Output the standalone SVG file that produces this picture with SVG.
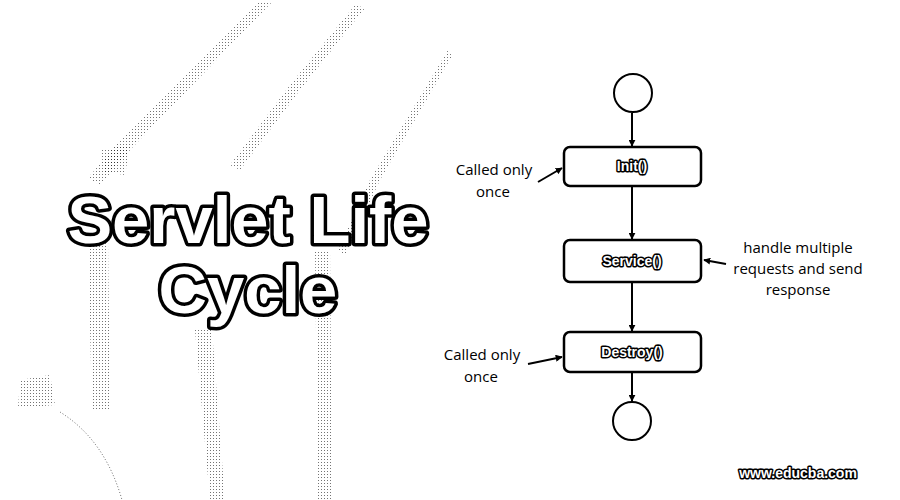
<svg xmlns="http://www.w3.org/2000/svg" width="900" height="500" viewBox="0 0 900 500">
<defs>
<pattern id="dots" width="3" height="3" patternUnits="userSpaceOnUse"><rect x="0" y="0" width="1" height="1" fill="#000"/></pattern>
<marker id="ah" viewBox="0 0 10 10" refX="9" refY="5" markerWidth="7" markerHeight="7" orient="auto-start-reverse" markerUnits="userSpaceOnUse"><path d="M0,0 L10,5 L0,10 z" fill="#000"/></marker>
<style>
.bg{fill:url(#dots);opacity:0.55}
.node rect{fill:#fff;stroke:#000;stroke-width:2.5}
.node circle{fill:#fff;stroke:#000;stroke-width:2}
.lbl{font-family:"Liberation Sans","DejaVu Sans",sans-serif;font-weight:bold;font-size:14px;text-anchor:middle;fill:#fff;stroke:#000;stroke-width:3;paint-order:stroke;stroke-linejoin:round}
.note{font-family:"Open Sans","Liberation Sans",sans-serif;font-size:15px;text-anchor:middle;fill:#000}
.conn line{stroke:#000;stroke-width:2;marker-end:url(#ah)}
.title{font-family:"Liberation Sans",Arial,sans-serif;font-weight:bold;font-size:67px;text-anchor:middle;fill:#fff;stroke:#000;stroke-width:7;paint-order:stroke;stroke-linejoin:round}
.wm{font-family:"Liberation Sans",Arial,sans-serif;font-weight:bold;font-size:14px;text-anchor:middle;fill:#fff;stroke:#000;stroke-width:3;paint-order:stroke;stroke-linejoin:round}
</style>
</defs>
<rect width="900" height="500" fill="#fff"/>
<g id="background">
<path class="bg" d="M258,2 L272,2 L130,150 L100,185 L88,178 L120,140 Z"/>
<path class="bg" d="M355,5 L365,8 L300,90 L240,170 L230,165 L290,85 Z"/>
<path class="bg" d="M448,50 L452,56 L380,180 L345,255 L338,250 L370,180 Z"/>
<path class="bg" d="M88,240 L108,240 L110,410 L92,410 Z"/>
<path class="bg" d="M195,330 L212,330 L225,500 L210,500 Z"/>
<path class="bg" d="M315,250 L330,250 L332,500 L318,500 Z"/>
<path class="bg" d="M100,150 L130,145 L125,175 L105,172 Z"/>
<path d="M60,412 Q105,440 122,500" fill="none" stroke="#000" stroke-width="1" stroke-dasharray="1,2" opacity="0.6"/>
<path d="M20,380 L50,375 L55,405 L18,408 Z" class="bg"/>
</g>
<g id="title">
<text class="title" x="248" y="243">Servlet Life</text>
<text class="title" x="248" y="313">Cycle</text>
</g>
<g id="connectors" class="conn">
<line x1="632" y1="113" x2="632" y2="146"/>
<line x1="632" y1="186" x2="632" y2="239"/>
<line x1="632" y1="282" x2="632" y2="331"/>
<line x1="632" y1="372" x2="632" y2="401"/>
<line x1="538" y1="182" x2="562" y2="168"/>
<line x1="726" y1="264" x2="704" y2="260"/>
<line x1="528" y1="364" x2="562" y2="357"/>
</g>
<g id="start" class="node"><circle cx="633" cy="93" r="19"/></g>
<g id="init" class="node"><rect x="564" y="147" width="137" height="39" rx="6"/><text class="lbl" x="632" y="171">Init()</text></g>
<g id="service" class="node"><rect x="564" y="240" width="137" height="42" rx="6"/><text class="lbl" x="632" y="266">Service()</text></g>
<g id="destroy" class="node"><rect x="564" y="332" width="137" height="40" rx="6"/><text class="lbl" x="632" y="357">Destroy()</text></g>
<g id="end" class="node"><circle cx="632" cy="421" r="19"/></g>
<g id="note-init"><text class="note" x="494" y="175">Called only</text><text class="note" x="493" y="197">once</text></g>
<g id="note-service"><text class="note" x="798" y="253">handle multiple</text><text class="note" x="798" y="274">requests and send</text><text class="note" x="798" y="295">response</text></g>
<g id="note-destroy"><text class="note" x="482" y="360">Called only</text><text class="note" x="481" y="382">once</text></g>
<g id="watermark"><text class="wm" x="798" y="478">www.educba.com</text></g>
</svg>
